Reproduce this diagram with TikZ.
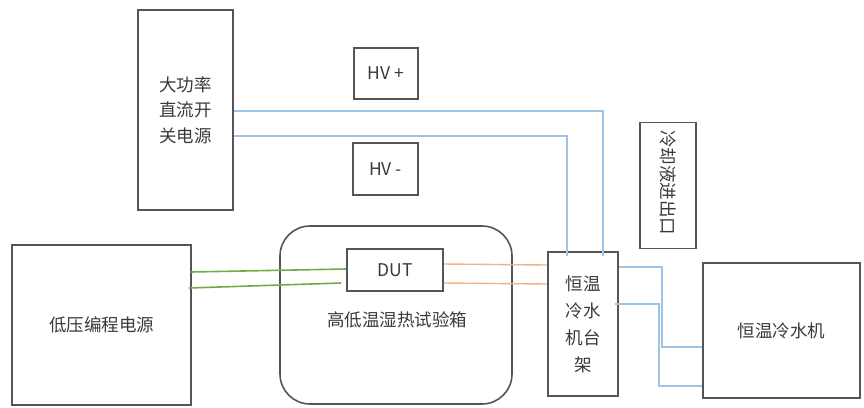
\documentclass[tikz,border=0pt]{standalone}
\usepackage{fontspec}
\setmainfont{Noto Sans CJK SC}
\usetikzlibrary{calc}
\definecolor{boxline}{HTML}{555555}
\definecolor{txt}{HTML}{3A3A3A}
\definecolor{wireblue}{HTML}{9DC3E6}
\definecolor{wiregreen}{HTML}{70AD47}
\definecolor{wireorange}{HTML}{F4B183}
\tikzset{
  box/.style={draw=boxline, line width=1.6pt, text=txt, inner sep=0pt, align=center,
    font=\fontsize{17.5}{25.5}\selectfont},
  lbl/.style={text=txt, inner sep=0pt, align=center, font=\fontsize{17.5}{25.5}\selectfont},
  bw/.style={draw=wireblue, line width=1.3pt},
  gw/.style={draw=wiregreen, line width=1.6pt},
  ow/.style={draw=wireorange, line width=1.4pt}
}
\begin{document}
\begin{tikzpicture}[x=1pt,y=-1pt]
\useasboundingbox (0,0) rectangle (864,407);
\fill[white] (0,0) rectangle (864,407);
% boxes
\node[box, minimum width=95pt, minimum height=200pt] (psu) at (185.5,110) {大功率\\直流开\\关电源};
\node[box, minimum width=64pt, minimum height=51pt] (hvp) at (386,73.5) {HV +};
\node[box, minimum width=65pt, minimum height=52pt] (hvm) at (385.5,169) {HV -};
\node[box, minimum width=56pt, minimum height=126pt] (cool) at (668,185.5) {};
\node[lbl, rotate=-90] (coollbl) at ($(cool.center)+(0,-3)$) {冷却液进出口};
\node[box, minimum width=70pt, minimum height=144pt, font=\fontsize{17.5}{27}\selectfont] (rack) at (583,324) {恒温\\冷水\\机台\\架};
\node[box, minimum width=157pt, minimum height=135pt] (chiller) at (781.5,330.5) {恒温冷水机};
\node[box, minimum width=179pt, minimum height=160pt] (lv) at (101.5,325) {低压编程电源};
\node[box, rounded corners=30pt, minimum width=232pt, minimum height=178pt] (chamber) at (396,315) {};
\node[box, minimum width=96pt, minimum height=42pt] (dut) at (395,270) {DUT};
\node[lbl] (chamberlbl) at (397,320) {高低温湿热试验箱};
% blue wires from PSU to rack
\draw[bw] (psu.east |- 0,111) -| ($(rack.north)+(20,5)$);
\draw[bw] (psu.east |- 0,136) -| ($(rack.north)+(-16,5)$);
% green wires
\draw[gw] ($(lv.east |- 0,272)+(-1,0)$) -- (dut.west |- 0,269);
\draw[gw] ($(lv.east |- 0,288)+(-3,0)$) -- ($(dut.west |- 0,283)+(-5,0)$);
% orange wires
\draw[ow] (dut.east |- 0,264) -- (rack.west |- 0,265);
\draw[ow] (dut.east |- 0,283) -- (rack.west |- 0,284);
% blue wires rack to chiller
\draw[bw] (rack.east |- 0,267) -| (662,347) -- (chiller.west |- 0,347);
\draw[bw] ($(rack.east |- 0,304)+(-4,0)$) -| (659,386) -- (chiller.west |- 0,386);
\end{tikzpicture}
\end{document}
